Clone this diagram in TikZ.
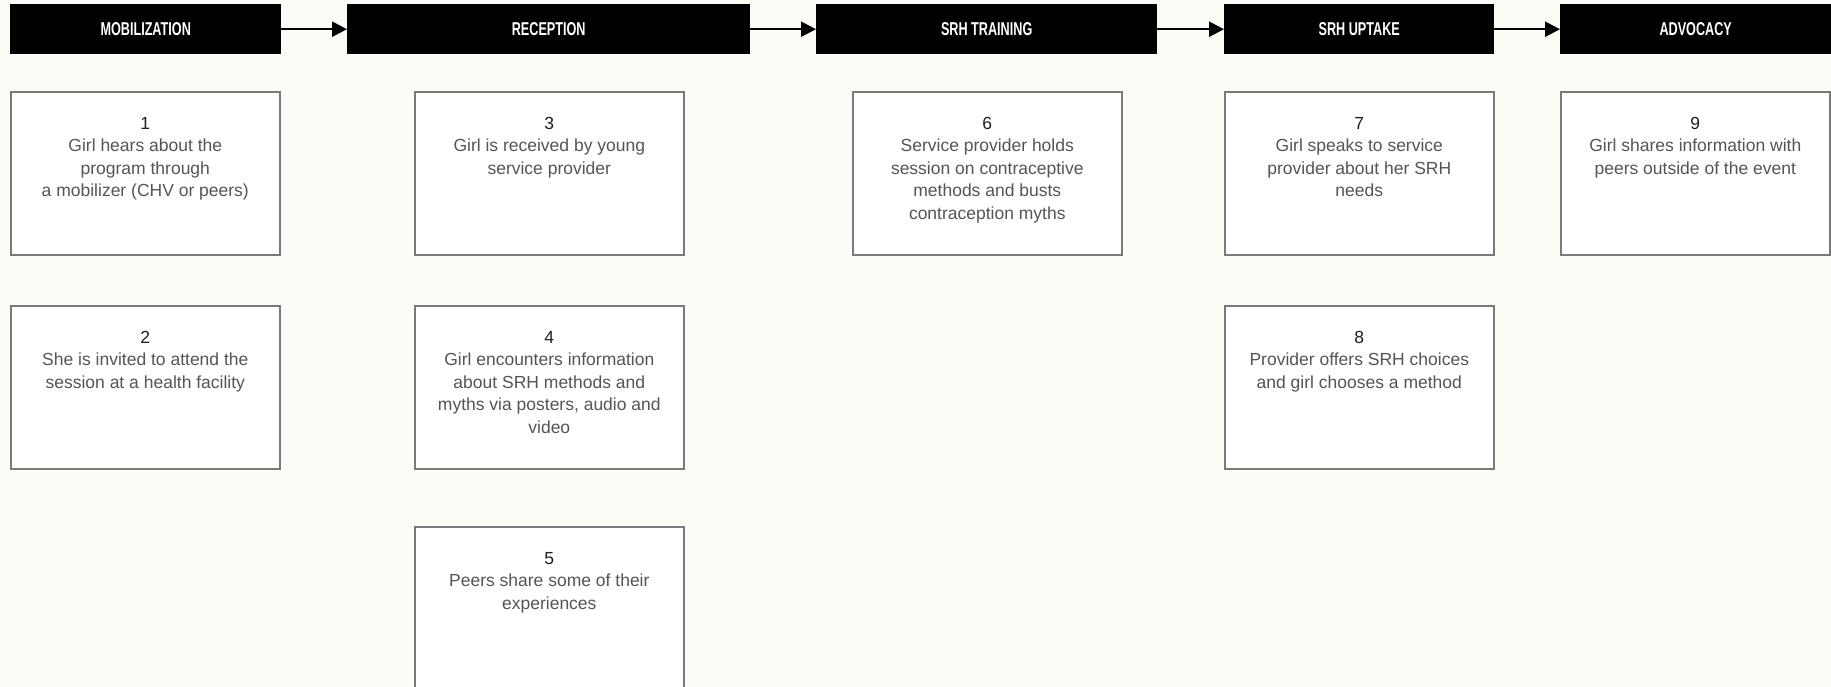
\documentclass[tikz,border=0pt]{standalone}
\usepackage{fontspec}
\setmainfont{Liberation Sans}
\newfontfamily\headfont[FakeStretch=0.68]{Liberation Sans Bold}
\usetikzlibrary{arrows.meta}
\definecolor{bg}{RGB}{252,252,246}
\definecolor{boxline}{RGB}{122,122,122}
\definecolor{txt}{RGB}{85,85,85}
\definecolor{num}{RGB}{30,30,30}
\begin{document}
\begin{tikzpicture}[x=1pt,y=-1pt,
  header/.style={fill=black, minimum height=50pt, inner sep=0pt, text=white,
    font=\headfont\fontsize{18.6}{20}\selectfont, anchor=north west},
  card/.style={draw=boxline, line width=1.6pt, fill=white, minimum width=269pt,
    minimum height=163pt, anchor=north west, inner sep=0pt},
  cardtext/.style={anchor=north, align=center, inner sep=0pt, text=txt,
    font=\fontsize{17.5}{22.5}\selectfont},
  flow/.style={line width=2.4pt, -{Triangle[length=15pt,width=15pt]}}]
\fill[bg] (0,0) rectangle (1831,687);
\useasboundingbox (0,0) rectangle (1831,687);
% headers
\node[header, minimum width=271pt] (h1) at (10,4) {MOBILIZATION};
\node[header, minimum width=403pt] (h2) at (347,4) {RECEPTION};
\node[header, minimum width=341pt] (h3) at (816,4) {SRH TRAINING};
\node[header, minimum width=270pt] (h4) at (1224,4) {SRH UPTAKE};
\node[header, minimum width=271pt] (h5) at (1560,4) {ADVOCACY};
\draw[flow] (h1.east) -- (h2.west);
\draw[flow] (h2.east) -- (h3.west);
\draw[flow] (h3.east) -- (h4.west);
\draw[flow] (h4.east) -- (h5.west);
% cards
\node[card] (c1) at (10,91) {};
\node[card] (c2) at (10,305) {};
\node[card] (c3) at (414,91) {};
\node[card] (c4) at (414,305) {};
\node[card] (c5) at (414,526) {};
\node[card] (c6) at (852,91) {};
\node[card] (c7) at (1224,91) {};
\node[card] (c8) at (1224,305) {};
\node[card] (c9) at (1560,91) {};
% texts
\node[cardtext] (t1) at ([yshift=-26pt]c1.north) {{\color{num}1}\\Girl hears about the\\program through\\a mobilizer (CHV or peers)};
\node[cardtext] (t2) at ([yshift=-26pt]c2.north) {{\color{num}2}\\She is invited to attend the\\session at a health facility};
\node[cardtext] (t3) at ([yshift=-26pt]c3.north) {{\color{num}3}\\Girl is received by young\\service provider};
\node[cardtext] (t4) at ([yshift=-26pt]c4.north) {{\color{num}4}\\Girl encounters information\\about SRH methods and\\myths via posters, audio and\\video};
\node[cardtext] (t5) at ([yshift=-26pt]c5.north) {{\color{num}5}\\Peers share some of their\\experiences};
\node[cardtext] (t6) at ([yshift=-26pt]c6.north) {{\color{num}6}\\Service provider holds\\session on contraceptive\\methods and busts\\contraception myths};
\node[cardtext] (t7) at ([yshift=-26pt]c7.north) {{\color{num}7}\\Girl speaks to service\\provider about her SRH\\needs};
\node[cardtext] (t8) at ([yshift=-26pt]c8.north) {{\color{num}8}\\Provider offers SRH choices\\and girl chooses a method};
\node[cardtext] (t9) at ([yshift=-26pt]c9.north) {{\color{num}9}\\Girl shares information with\\peers outside of the event};
\end{tikzpicture}
\end{document}
